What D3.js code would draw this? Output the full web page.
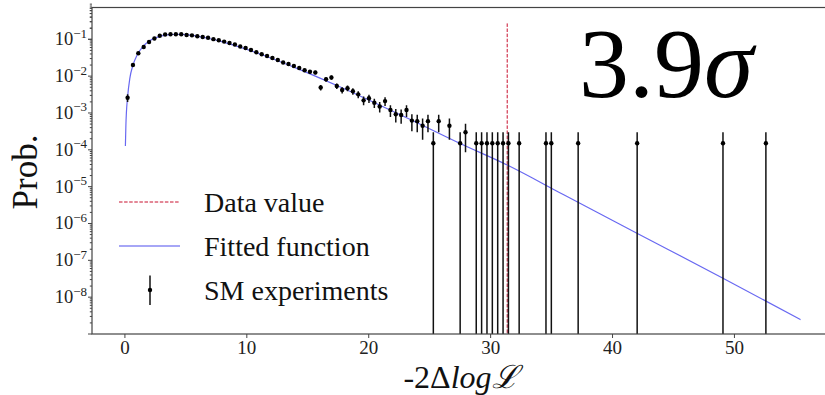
<!DOCTYPE html>
<html><head><meta charset="utf-8">
<script src="https://cdn.jsdelivr.net/npm/d3@7"></script>
<style>body{margin:0;background:#fff} svg{display:block}</style>
</head><body><svg id="c" width="825" height="395"></svg>
<script>
// ---------- data ----------
const binCenters = [0.22,0.66,1.10,1.54,1.98,2.42,2.86,3.30,3.74,4.18,4.62,5.06,5.50,5.94,6.38,6.82,7.26,7.70,8.14,8.58,
  9.02,9.46,9.90,10.34,10.78,11.22,11.66,12.10,12.54,12.98,13.42,13.86,14.30,14.74,15.18,15.62,16.06,16.50,16.94,17.38,
  17.82,18.26,18.70,19.14,19.58,20.02,20.46,20.90,21.34,21.78,22.22,22.66,23.10,23.54,23.98,24.42,24.86,25.30,25.74,
  26.62,27.50,27.94,28.82,29.26,29.70,30.14,30.58,31.02,31.46,32.34,34.54,34.98,37.18,42.02,49.06,52.58];
const probValues = [0.0026,0.0200,0.0417,0.0618,0.0845,0.105,0.125,0.135,0.137,0.1375,0.137,0.131,0.128,0.121,0.116,0.110,0.101,0.0946,0.0867,0.0794,
  0.0723,0.0638,0.0581,0.0513,0.0444,0.0392,0.0352,0.0311,0.0274,0.0235,0.0214,0.0189,0.0166,0.0144,0.0131,0.0126,0.00492,0.0082,0.0092,0.0054,
  0.0042,0.0047,0.0039,0.0032,0.0022,0.0025,0.0019,0.0015,0.0021,0.0012,0.00092,0.00088,0.0012,0.00062,0.0006,0.00045,0.0006,0.000151,0.0006,
  0.00045,0.000151,0.0003,0.000151,0.000151,0.000151,0.000151,0.000151,0.000151,0.000151,0.000151,0.000151,0.000151,0.000151,0.000151,0.000151,0.000151];
const probPerExperiment = 0.000151;
const fitX = [0.04,0.08,0.12,0.22,0.4,0.66,1.0,1.5,2.0,2.5,3.0,3.5,4.25,5,6,7,8,10,12,14,16,18,20,23.5,27.5,31.34,36,42,49.06,55.42];
const fitY = [1.27e-4,4.67e-4,9.9e-4,2.75e-3,8.6e-3,0.0199,0.0375,0.0648,0.0895,0.1094,0.1237,0.1325,0.137,0.1333,0.1205,0.1033,0.0851,0.0531,0.0307,0.0168,
  0.00885,0.00453,0.00226,6.45e-4,1.48e-4,3.89e-5,6.0e-6,5.46e-7,3.28e-8,2.45e-9];
const dataValue = 31.36;
const dataLineTop = 0.27;
const xTicks = [0,10,20,30,40,50];
const yTickExponents = [-1,-2,-3,-4,-5,-6,-7,-8];
const legendLabels = ["Data value","Fitted function","SM experiments"];
const significanceText = "3.9";

// ---------- layout ----------
const svg = d3.select("#c");
const L = 92, T = 7.5, B = 334, R = 834.4;
const x = d3.scaleLinear().domain([-2.7, 58.2]).range([L, R]);
const y = d3.scaleLog().domain([1e-9, 0.73]).range([B, T]);
const serif = "'Liberation Serif','Times New Roman',serif";
const axisCol = "#444";

svg.append("defs").append("clipPath").attr("id","clip")
  .append("rect").attr("x",L).attr("y",T).attr("width",R-L).attr("height",B-T);
const plot = svg.append("g").attr("clip-path","url(#clip)");

// fitted function
plot.append("path").datum(fitX.map((v,i)=>[v,fitY[i]]))
  .attr("d", d3.line().x(d=>x(d[0])).y(d=>y(d[1])).curve(d3.curveMonotoneX))
  .attr("fill","none").attr("stroke","rgba(40,40,235,0.7)").attr("stroke-width",1.2);

// data value line
plot.append("line").attr("x1",x(dataValue)).attr("x2",x(dataValue))
  .attr("y1",y(dataLineTop)).attr("y2",B)
  .attr("stroke","#c8102e").attr("stroke-width",1).attr("stroke-dasharray","3.5,1.6");

// error bars
const pts = binCenters.map((v,i)=>{
  const p = probValues[i];
  const n = Math.max(1, Math.round(p/probPerExperiment));
  const e = Math.sqrt(n)*probPerExperiment;
  return {v, p, lo: p-e, hi: p+e};
});
plot.selectAll("line.err").data(pts).join("line").attr("class","err")
  .attr("x1",d=>x(d.v)).attr("x2",d=>x(d.v))
  .attr("y1",d=>d.lo>1e-12 ? y(d.lo) : B+2).attr("y2",d=>y(d.hi))
  .attr("stroke","#111").attr("stroke-width",1.5);
plot.selectAll("circle.pt").data(pts).join("circle").attr("class","pt")
  .attr("cx",d=>x(d.v)).attr("cy",d=>y(d.p)).attr("r",2.2).attr("fill","#000");

// frame
svg.append("rect").attr("x",L).attr("y",T).attr("width",R-L).attr("height",B-T)
  .attr("fill","none").attr("stroke",axisCol).attr("stroke-width",1.2);

// x ticks
const gx = svg.append("g");
xTicks.forEach(t=>{
  gx.append("line").attr("x1",x(t)).attr("x2",x(t)).attr("y1",B).attr("y2",B+4).attr("stroke",axisCol);
  gx.append("text").attr("x",x(t)).attr("y",354).attr("text-anchor","middle")
    .attr("font-family",serif).attr("font-size",19).attr("fill","#222").text(t);
});
// y ticks
const gy = svg.append("g");
for (let ex=-9; ex<=-1; ex++){
  for (let m=1; m<10; m++){
    const val = m*Math.pow(10,ex);
    const yy = y(val);
    gy.append("line").attr("x1",L).attr("x2",L-(m===1?4:2.2)).attr("y1",yy).attr("y2",yy).attr("stroke",axisCol);
  }
}
[0.1,0.2,0.3,0.4,0.5,0.6,0.7].forEach((v,i)=>{
  const yy=y(v);
  gy.append("line").attr("x1",L).attr("x2",L-(i===0?4:2.2)).attr("y1",yy).attr("y2",yy).attr("stroke",axisCol);
});
yTickExponents.forEach(ex=>{
  const t = gy.append("text").attr("x",87).attr("y",y(Math.pow(10,ex))+6).attr("text-anchor","end")
    .attr("font-family",serif).attr("font-size",18.5).attr("fill","#222");
  t.append("tspan").text("10");
  t.append("tspan").attr("dy",-7.5).attr("font-size",13).text("\u2212"+Math.abs(ex));
});

// axis labels
svg.append("text").attr("transform","translate(37,172) rotate(-90)").attr("text-anchor","middle")
  .attr("font-family",serif).attr("font-size",35).attr("fill","#111").text("Prob.");
const xl = svg.append("text").attr("x",461).attr("y",388).attr("text-anchor","middle")
  .attr("font-family",serif).attr("font-size",32).attr("fill","#111");
xl.append("tspan").text("-2\u0394");
xl.append("tspan").attr("font-style","italic").text("log");
xl.append("tspan").attr("font-style","italic").text("\u2112");

// significance
const st = svg.append("text").attr("x",579).attr("y",97).attr("font-family",serif).attr("font-size",100).attr("fill","#000");
st.append("tspan").text(significanceText);
st.append("tspan").attr("font-style","italic").text("\u03c3");

// legend
const lg = svg.append("g");
const rows = [202,246,290];
lg.append("line").attr("x1",119).attr("x2",180).attr("y1",rows[0]).attr("y2",rows[0])
  .attr("stroke","#c8102e").attr("stroke-width",1).attr("stroke-dasharray","3.5,1.6");
lg.append("line").attr("x1",119).attr("x2",180).attr("y1",rows[1]).attr("y2",rows[1])
  .attr("stroke","rgba(40,40,235,0.55)").attr("stroke-width",1.3);
lg.append("line").attr("x1",150).attr("x2",150).attr("y1",rows[2]-14.5).attr("y2",rows[2]+15)
  .attr("stroke","#111").attr("stroke-width",1.5);
lg.append("circle").attr("cx",150).attr("cy",rows[2]).attr("r",2.2).attr("fill","#000");
legendLabels.forEach((s,i)=>{
  lg.append("text").attr("x",204).attr("y",rows[i]+10).attr("font-family",serif)
    .attr("font-size",28).attr("fill","#111").text(s);
});
</script></body></html>
